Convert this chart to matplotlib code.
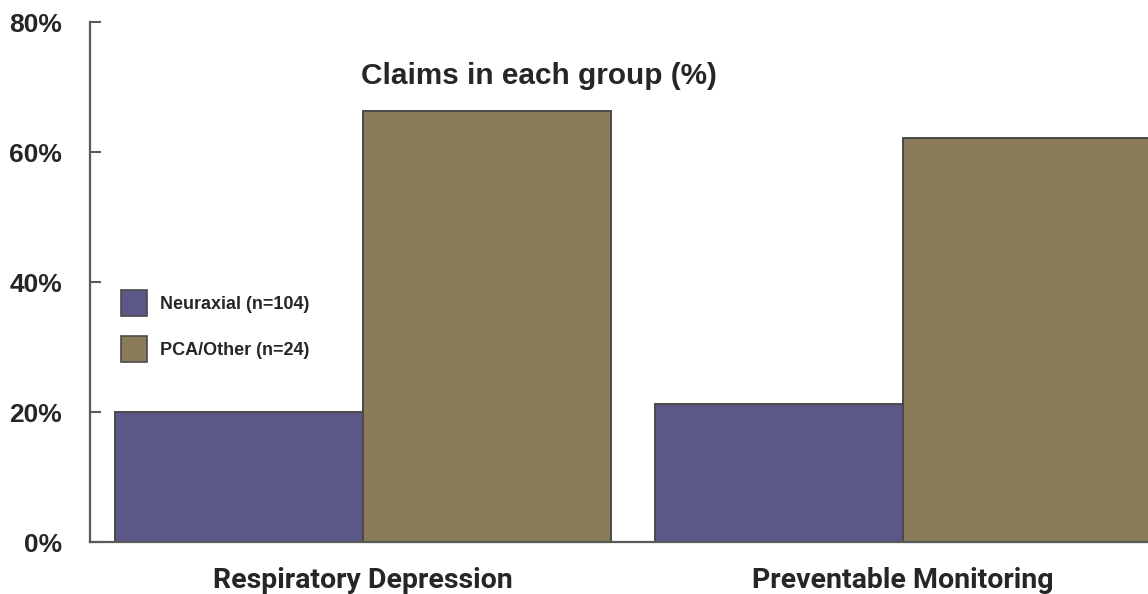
import matplotlib
matplotlib.use("Agg")
import matplotlib.pyplot as plt
import numpy as np
from matplotlib.patches import Patch

# Data
categories = ["Respiratory Depression", "Preventable Monitoring"]
series_names = ["Neuraxial (n=104)", "PCA/Other (n=24)"]
neuraxial = [20.0, 21.2]
pca_other = [66.3, 62.2]
y_ticks = [0, 20, 40, 60, 80]
y_tick_labels = ["0%", "20%", "40%", "60%", "80%"]

colors = ["#5b5888", "#8a7b5a"]
edge = "#4a4a4a"
text_color = "#262626"
spine_color = "#5a5a5a"

W, H = 1148, 594
fig = plt.figure(figsize=(W / 100, H / 100), dpi=100)
ax = fig.add_axes([90 / W, 1 - 542 / H, 1 - 90 / W, (542 - 22) / H])

x = np.arange(len(categories))
width = 0.459
ax.bar(x - width / 2, neuraxial, width, color=colors[0], edgecolor=edge,
       linewidth=1.4, label=series_names[0], zorder=2)
ax.bar(x + width / 2, pca_other, width, color=colors[1], edgecolor=edge,
       linewidth=1.4, label=series_names[1], zorder=2)

ax.set_xlim(-0.506, 1.454)
ax.set_ylim(0, 80)

for s in ["top", "right"]:
    ax.spines[s].set_visible(False)
for s in ["left", "bottom"]:
    ax.spines[s].set_color(spine_color)
    ax.spines[s].set_linewidth(1.6)
    ax.spines[s].set_zorder(3)

ax.set_yticks(y_ticks)
ax.set_yticklabels(y_tick_labels)
ax.tick_params(axis="y", direction="in", length=8, width=1.5, color=spine_color,
               pad=20, labelsize=19, labelcolor=text_color)
for lbl in ax.get_yticklabels():
    lbl.set_fontfamily(["Liberation Sans", "DejaVu Sans"])
    lbl.set_fontweight("bold")

ax.set_xticks(x)
ax.set_xticklabels(categories)
ax.tick_params(axis="x", length=0, pad=18, labelsize=20.5, labelcolor=text_color)
for lbl in ax.get_xticklabels():
    lbl.set_fontfamily(["Roboto", "Liberation Sans", "DejaVu Sans"])
    lbl.set_fontweight("bold")

fig.text(539 / W, 1 - 76 / H, "Claims in each group (%)", ha="center", va="center",
         fontsize=21.4, fontweight="bold", color=text_color,
         family=["Liberation Sans", "DejaVu Sans"])

handles = [Patch(facecolor=colors[0], edgecolor=edge, linewidth=1.2),
           Patch(facecolor=colors[1], edgecolor=edge, linewidth=1.2)]
leg = fig.legend(handles, series_names, loc="upper left",
                 bbox_to_anchor=(121 / W, 1 - 290 / H), bbox_transform=fig.transFigure,
                 frameon=False, borderpad=0, borderaxespad=0,
                 handlelength=1.45, handleheight=1.85, handletextpad=0.7,
                 labelspacing=1.1,
                 prop={"family": ["Liberation Sans", "DejaVu Sans"], "weight": "bold", "size": 13})
for t in leg.get_texts():
    t.set_color(text_color)

fig.savefig("out.png", dpi=100, facecolor="white")
